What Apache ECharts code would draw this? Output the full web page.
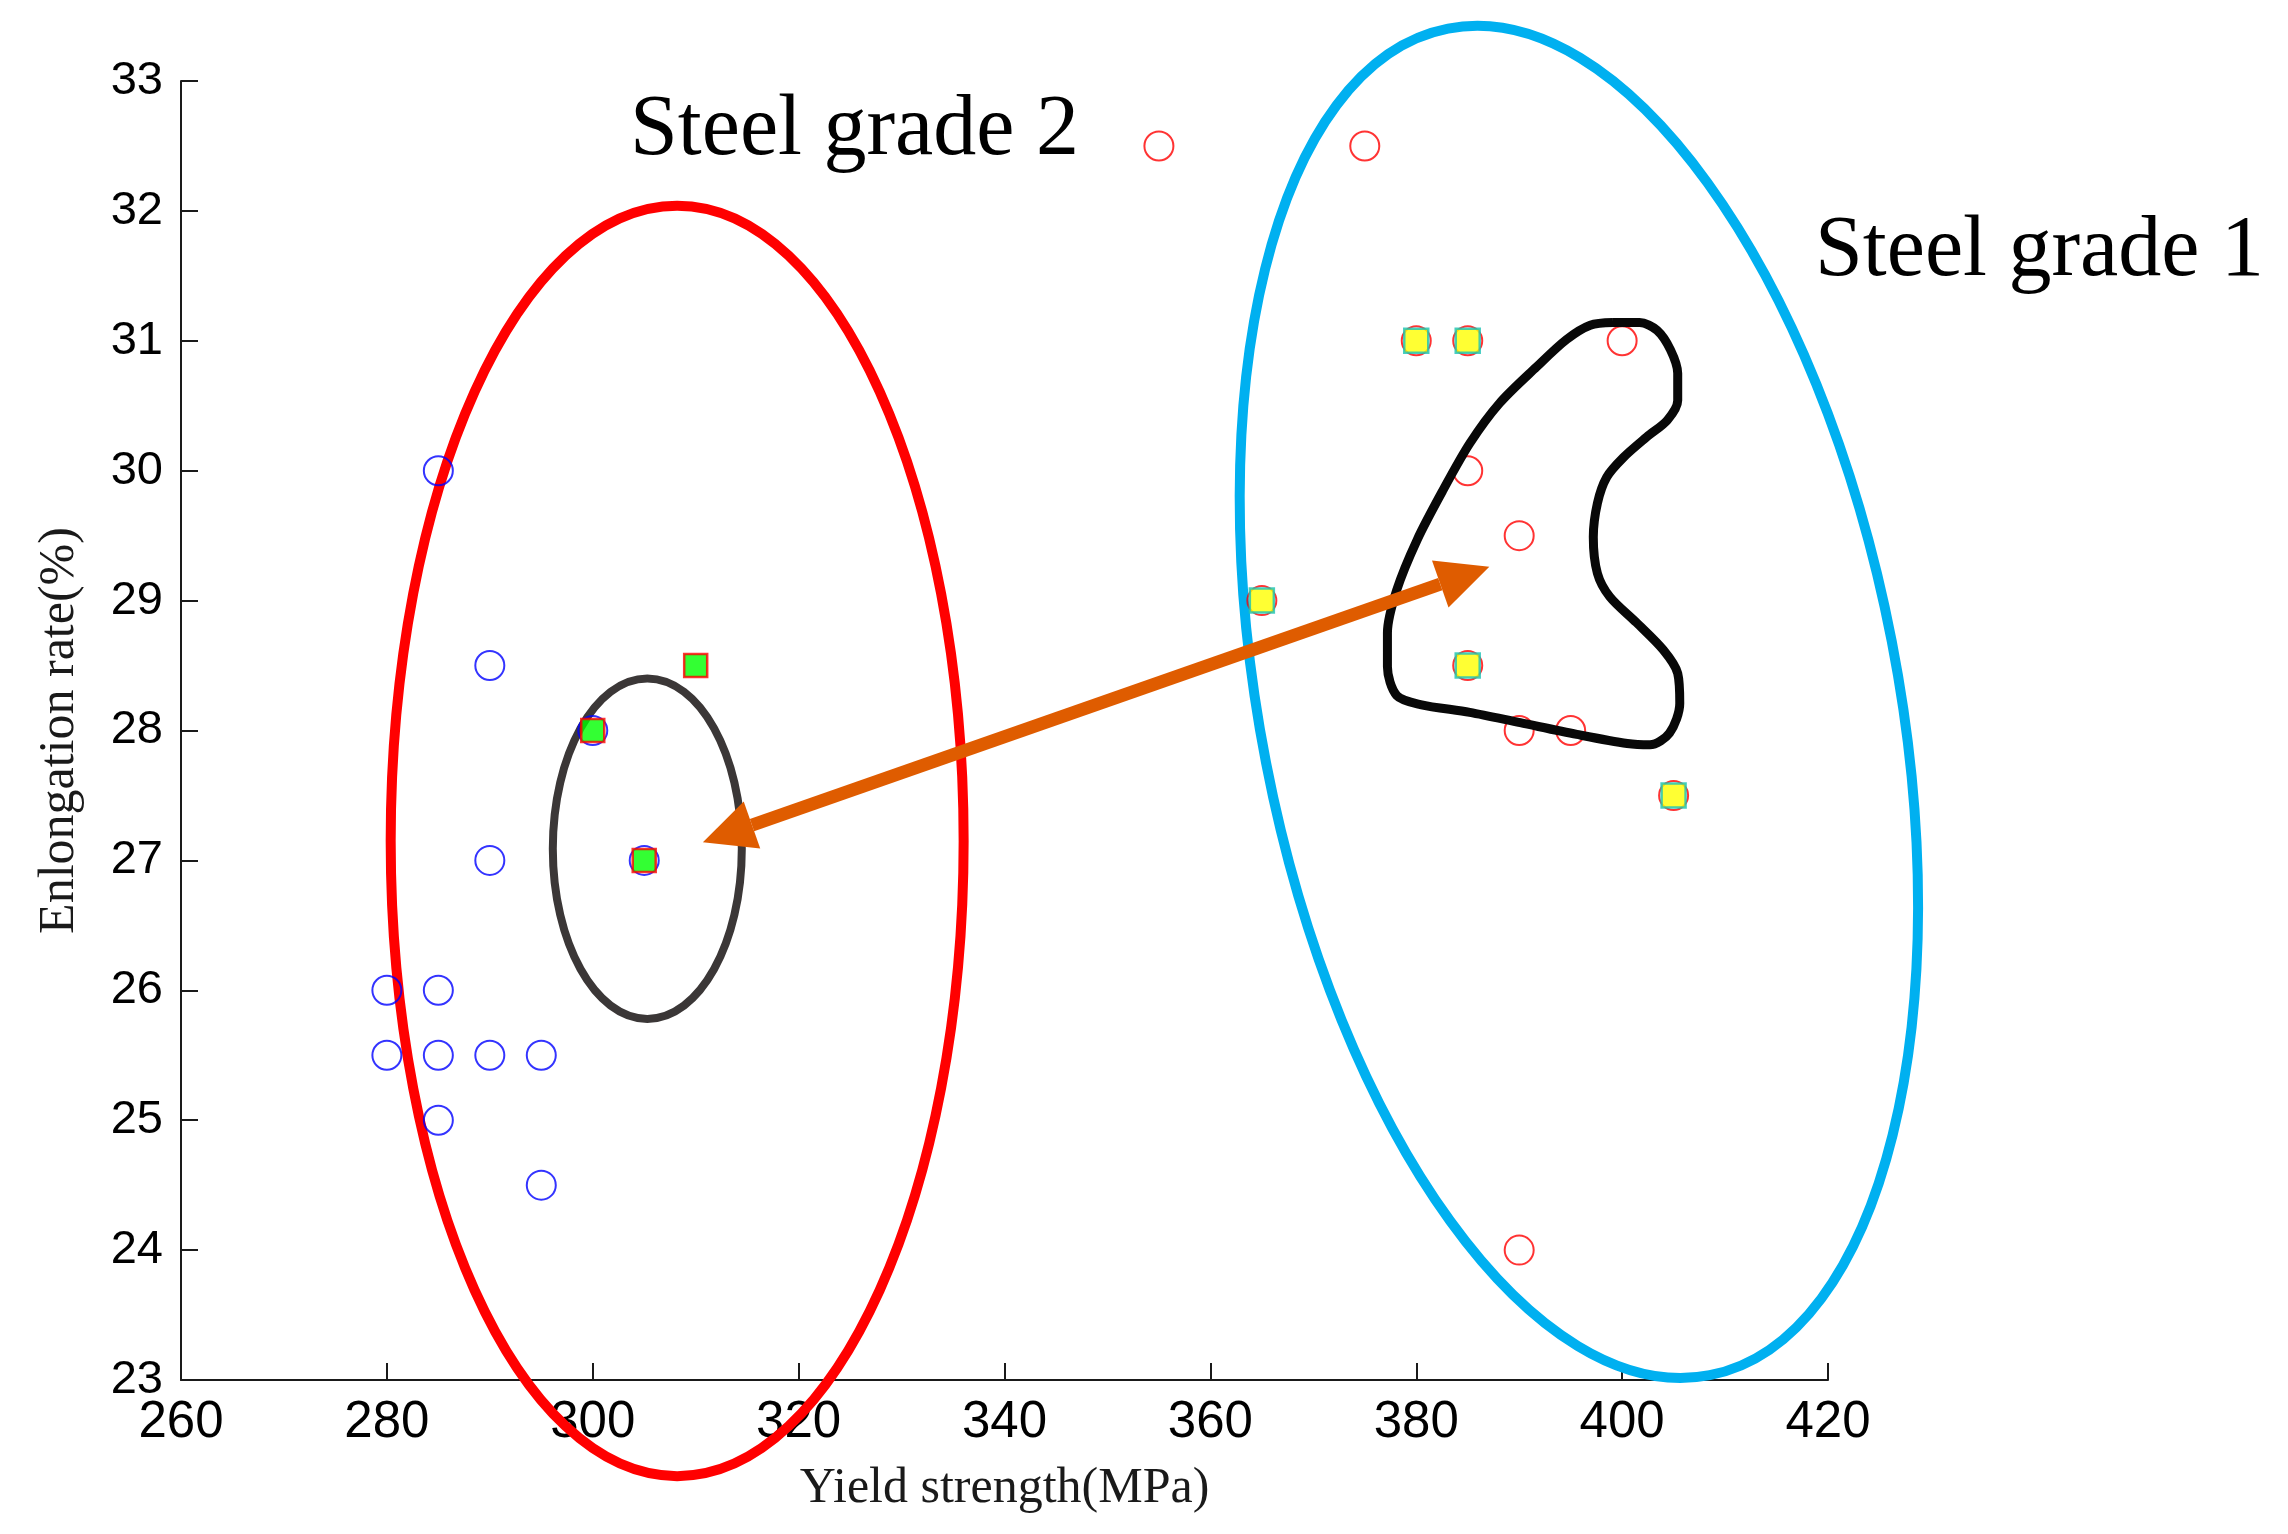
<!DOCTYPE html>
<html><head><meta charset="utf-8">
<script src="https://cdn.jsdelivr.net/npm/echarts@6/dist/echarts.min.js"></script>
<style>html,body{margin:0;padding:0;background:#fff}#c{width:2288px;height:1534px}</style>
</head><body><div id="c"></div>
<script>
// ---- data ----
const xRange = [260, 420, 20];
const yRange = [23, 33, 1];
// Steel grade 2 samples (blue open circles)
const grade2Points = [[285,30],[290,28.5],[300,28],[290,27],[305,27],[280,26],[285,26],[280,25.5],[285,25.5],[290,25.5],[295,25.5],[285,25],[295,24.5]];
// Steel grade 1 samples (red open circles)
const grade1Points = [[355,32.5],[375,32.5],[380,31],[385,31],[400,31],[385,30],[390,29.5],[365,29],[385,28.5],[390,28],[395,28],[405,27.5],[390,24]];
// highlighted samples
const greenSquares = [[300,28],[305,27],[310,28.5]];
const yellowSquares = [[380,31],[385,31],[365,29],[385,28.5],[405,27.5]];
// ellipses: [centerX, centerY, radiusX, radiusY, rotationDeg] in data units
const grade2Ellipse = [[308.2, 27.15, 27.83, 4.89, 0]];
const coreEllipse = [[305.3, 27.09, 9.18, 1.31, 0]];
const grade1Ellipse = [[395.8, 28.22, 30.96, 5.28, 11]];
// arrow: [x1, y1, x2, y2]
const arrowData = [[310.7, 27.14, 387.1, 29.26]];
// freeform outline around grade 1 cluster
const blobPoints = [[399.1,31.14],[401.7,31.14],[403.4,31.08],[404.7,30.93],[405.4,30.75],[405.4,30.54],[404.4,30.39],[402.4,30.26],[400.1,30.10],[398.5,29.95],[397.6,29.75],[397.2,29.49],[397.6,29.21],[398.8,29.03],[401.4,28.83],[404.0,28.62],[405.4,28.44],[405.6,28.21],[404.6,27.98],[402.7,27.89],[400.5,27.90],[395.6,27.97],[390.1,28.06],[385.2,28.14],[380.4,28.20],[378.1,28.27],[377.2,28.49],[377.2,28.75],[378.1,29.08],[380.1,29.47],[382.6,29.85],[385.2,30.21],[388.1,30.52],[391.7,30.80],[394.6,31.01],[396.9,31.12],[399.1,31.14]];

const chart = echarts.init(document.getElementById('c'), null, {renderer:'canvas'});

function ellipseSeries(data, color, width) {
  return {
    type: 'custom', data: data, clip: false, silent: true, z: 3,
    renderItem: function (params, api) {
      const c = api.coord([api.value(0), api.value(1)]);
      const s = api.size([api.value(2), api.value(3)]);
      return {
        type: 'ellipse', x: c[0], y: c[1], rotation: api.value(4) * Math.PI / 180,
        shape: {cx: 0, cy: 0, rx: s[0], ry: s[1]},
        style: {fill: null, stroke: color, lineWidth: width}
      };
    }
  };
}

const arrowColor = '#df5c00';
const axisStyle = {
  axisLine: {show: true, lineStyle: {color: '#1a1a1a', width: 2}},
  axisTick: {show: true, inside: true, length: 17, lineStyle: {color: '#1a1a1a', width: 2}},
  splitLine: {show: false}
};

chart.setOption({
  animation: false,
  backgroundColor: '#fff',
  grid: {left: 181, right: 460, top: 81, bottom: 154},
  xAxis: Object.assign({
    type: 'value', min: xRange[0], max: xRange[1], interval: xRange[2],
    axisLabel: {fontFamily: 'Liberation Sans', fontSize: 51, color: '#000', margin: 17},
    name: 'Yield strength(MPa)', nameLocation: 'middle', nameGap: 84,
    nameTextStyle: {fontFamily: 'Liberation Serif', fontSize: 50, color: '#1a1a1a'}
  }, axisStyle),
  yAxis: Object.assign({
    type: 'value', min: yRange[0], max: yRange[1], interval: yRange[2],
    axisLabel: {fontFamily: 'Liberation Sans', fontSize: 47, color: '#000', margin: 18},
    name: 'Enlongation rate(%)', nameLocation: 'middle', nameGap: 96,
    nameTextStyle: {fontFamily: 'Liberation Serif', fontSize: 50, color: '#1a1a1a'}
  }, axisStyle),
  graphic: [
    {type: 'text', x: 630, y: 131, z: 100, style: {text: 'Steel grade 2', font: '86px "Liberation Serif"', fill: '#000', verticalAlign: 'middle', align: 'left'}},
    {type: 'text', x: 1815, y: 252, z: 100, style: {text: 'Steel grade 1', font: '86px "Liberation Serif"', fill: '#000', verticalAlign: 'middle', align: 'left'}}
  ],
  series: [
    ellipseSeries(grade2Ellipse, '#ff0000', 10),
    ellipseSeries(coreEllipse, '#3b3737', 8),
    ellipseSeries(grade1Ellipse, '#00b0f0', 10),
    {type: 'scatter', data: grade2Points, symbol: 'circle', symbolSize: 29, z: 4,
     itemStyle: {color: 'rgba(0,0,0,0)', borderColor: '#0000ff', borderWidth: 2}},
    {type: 'scatter', data: grade1Points, symbol: 'circle', symbolSize: 29, z: 4,
     itemStyle: {color: 'rgba(0,0,0,0)', borderColor: '#ff0000', borderWidth: 2}},
    {type: 'line', data: blobPoints, smooth: 0.3, symbol: 'none', z: 5, clip: false,
     lineStyle: {color: '#080808', width: 9}},
    {type: 'scatter', data: greenSquares, symbol: 'rect', symbolSize: 23, z: 6,
     itemStyle: {color: '#00ff00', borderColor: '#ff0000', borderWidth: 2.5}},
    {type: 'scatter', data: yellowSquares, symbol: 'rect', symbolSize: 24, z: 6,
     itemStyle: {color: '#ffff00', borderColor: '#19c2b4', borderWidth: 2.5}},
    {type: 'custom', data: arrowData, clip: false, silent: true, z: 7,
     renderItem: function (params, api) {
       const p1 = api.coord([api.value(0), api.value(1)]);
       const p2 = api.coord([api.value(2), api.value(3)]);
       const dx = p2[0] - p1[0], dy = p2[1] - p1[1];
       const L = Math.sqrt(dx * dx + dy * dy);
       const ux = dx / L, uy = dy / L, nx = -uy, ny = ux;
       const hl = 52, hw = 25;
       const b1 = [p1[0] + ux * hl, p1[1] + uy * hl];
       const b2 = [p2[0] - ux * hl, p2[1] - uy * hl];
       return {type: 'group', children: [
         {type: 'line', shape: {x1: b1[0], y1: b1[1], x2: b2[0], y2: b2[1]}, style: {stroke: arrowColor, lineWidth: 13}},
         {type: 'polygon', shape: {points: [p1, [b1[0] + nx * hw, b1[1] + ny * hw], [b1[0] - nx * hw, b1[1] - ny * hw]]}, style: {fill: arrowColor}},
         {type: 'polygon', shape: {points: [p2, [b2[0] + nx * hw, b2[1] + ny * hw], [b2[0] - nx * hw, b2[1] - ny * hw]]}, style: {fill: arrowColor}}
       ]};
     }}
  ]
});
</script></body></html>
